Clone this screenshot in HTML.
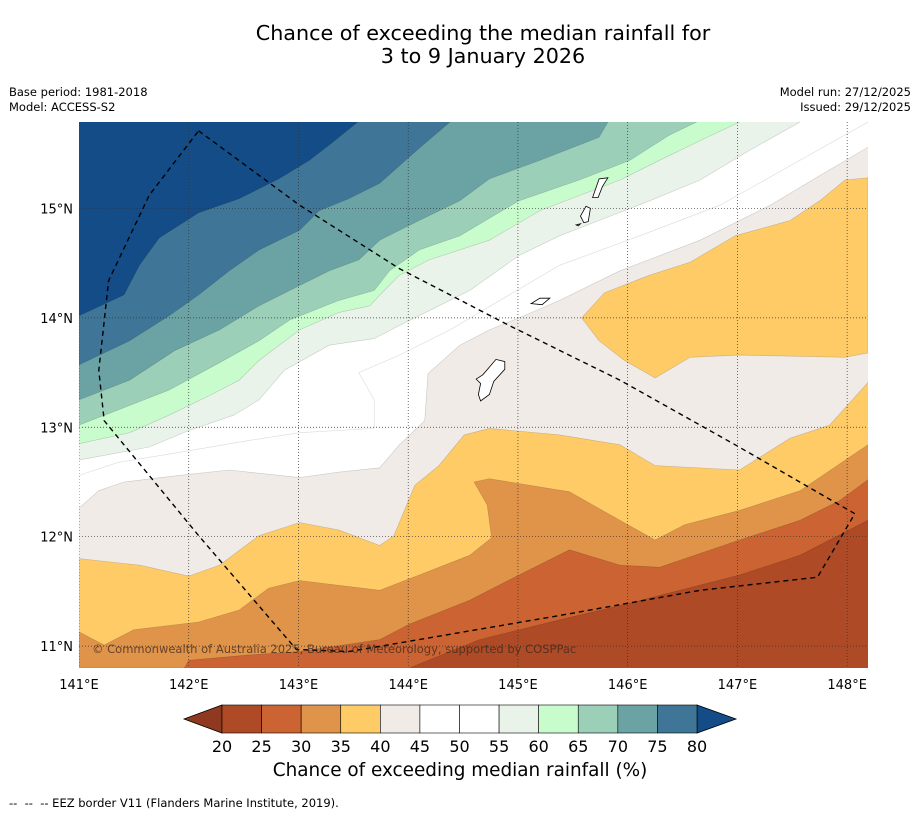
<!DOCTYPE html>
<html><head><meta charset="utf-8">
<style>
body{margin:0;background:#fff;font-family:"DejaVu Sans","Liberation Sans",sans-serif;}
#wrap{position:relative;width:919px;height:816px;overflow:hidden;background:#fff;}
.t{position:absolute;white-space:nowrap;color:#000;}
</style></head><body>
<div id="wrap">
<div class="t" style="left:0;width:966px;top:22px;text-align:center;font-size:20.7px;line-height:23px;">Chance of exceeding the median rainfall for<br>3 to 9 January 2026</div>
<div class="t" style="left:9px;top:85px;font-size:11.5px;line-height:15px;">Base period: 1981-2018<br>Model: ACCESS-S2</div>
<div class="t" style="right:8px;top:85px;font-size:11.5px;line-height:15px;text-align:right;">Model run: 27/12/2025<br>Issued: 29/12/2025</div>
<svg id="svg" width="919" height="816" style="position:absolute;left:0;top:0"></svg>
<div class="t" style="left:0;width:920px;top:760px;text-align:center;font-size:18.4px;">Chance of exceeding median rainfall (%)</div>
<div class="t" style="left:9px;top:796px;font-size:11.5px;">--&nbsp; --&nbsp; -- EEZ border V11 (Flanders Marine Institute, 2019).</div>
</div>
<script>
const levels=[20,25,30,35,40,45,50,55,60,65,70,75,80];
const colors=["#ae4a26","#cb6432","#e0944a","#fecb67","#f0ebe6","#ffffff","#ffffff","#eaf3ea","#c9fccc","#9bcfb8","#6ba3a5","#3f7697","#144c87"];
const lonTicks=[141,142,143,144,145,146,147,148];
const latTicks=[11,12,13,14,15];
const T25=[[141,10.80],[144.01,10.80],[144.65,11.06],[145.38,11.24],[145.93,11.37],[147.02,11.65],[147.57,11.83],[148.19,12.15]];
const T30=[[141,10.80],[141.96,10.80],[142.00,10.87],[142.55,10.92],[143.01,10.95],[143.74,11.06],[144.01,11.20],[144.56,11.42],[145.01,11.65],[145.47,11.88],[145.93,11.74],[146.29,11.72],[147.02,11.97],[147.57,12.15],[147.93,12.33],[148.19,12.52]];
const T35=[[141,11.13],[141.23,11.01],[141.50,11.15],[142.09,11.22],[142.46,11.33],[142.73,11.53],[143.01,11.60],[143.74,11.51],[144.10,11.65],[144.56,11.83],[144.76,11.99],[144.72,12.29],[144.60,12.50],[144.74,12.53],[145.47,12.41],[145.84,12.20],[146.25,11.97],[146.52,12.11],[147.02,12.24],[147.57,12.42],[148.19,12.84]];
const T40=[[141,11.80],[141.55,11.74],[142.00,11.64],[142.28,11.74],[142.64,12.01],[143.01,12.13],[143.37,12.06],[143.74,11.92],[143.87,12.01],[144.06,12.47],[144.28,12.65],[144.51,12.93],[144.74,12.99],[145.38,12.93],[145.93,12.84],[146.25,12.65],[147.02,12.61],[147.48,12.90],[147.84,13.02],[148.19,13.41]];
const B40=[[145.58,14.00],[145.79,14.23],[146.20,14.39],[146.57,14.51],[146.98,14.75],[147.48,14.89],[147.75,15.07],[147.98,15.26],[148.19,15.28],[148.19,13.68],[147.98,13.64],[147.02,13.66],[146.57,13.64],[146.25,13.45],[145.97,13.61],[145.74,13.79]];
const T45=[[141,12.26],[141.18,12.42],[141.41,12.50],[141.91,12.56],[142.37,12.61],[143.01,12.54],[143.37,12.59],[143.74,12.63],[143.92,12.84],[144.15,13.06],[144.18,13.49],[144.47,13.75],[144.74,13.89],[145.01,14.00],[145.38,14.16],[145.93,14.43],[146.66,14.71],[147.30,15.03],[147.75,15.30],[148.19,15.56]];
const T50=[[141,12.56],[141.36,12.68],[141.91,12.77],[142.55,12.88],[143.01,12.95],[143.69,12.99],[143.69,13.25],[143.55,13.50],[143.92,13.66],[144.38,13.89],[144.92,14.21],[145.38,14.48],[146.11,14.75],[146.84,15.03],[147.57,15.44],[148.19,15.79]];
const T55=[[141,12.70],[141.64,12.82],[142.00,12.97],[142.41,13.11],[142.64,13.25],[142.87,13.52],[143.28,13.75],[143.69,13.81],[143.92,13.93],[144.28,14.11],[144.56,14.25],[145.01,14.57],[145.38,14.75],[145.74,14.89],[146.20,15.07],[146.66,15.26],[147.11,15.53],[147.57,15.79]];
const T60=[[141,12.85],[141.46,12.95],[141.82,13.11],[142.19,13.29],[142.46,13.43],[142.64,13.61],[143.01,13.89],[143.37,14.05],[143.65,14.11],[143.78,14.25],[143.92,14.39],[144.19,14.53],[144.74,14.71],[145.20,14.98],[145.93,15.26],[146.29,15.44],[146.66,15.62],[147.02,15.79]];
const T65=[[141,13.02],[141.36,13.16],[141.82,13.34],[142.28,13.59],[142.64,13.79],[142.92,13.98],[143.37,14.16],[143.69,14.25],[143.83,14.43],[144.10,14.62],[144.47,14.75],[144.74,14.91],[145.01,15.07],[145.56,15.26],[146.02,15.44],[146.38,15.67],[146.63,15.79]];
const T70=[[141,13.25],[141.46,13.43],[141.87,13.70],[142.28,13.89],[142.64,14.11],[142.92,14.25],[143.28,14.43],[143.55,14.53],[143.74,14.71],[144.10,14.89],[144.47,15.07],[144.74,15.27],[145.20,15.44],[145.74,15.65],[145.82,15.79]];
const T75=[[141,13.57],[141.46,13.79],[141.82,14.02],[142.09,14.21],[142.37,14.43],[142.64,14.62],[143.01,14.80],[143.19,14.98],[143.46,15.09],[143.74,15.23],[143.92,15.39],[144.10,15.55],[144.38,15.79]];
const T80=[[141,14.02],[141.41,14.21],[141.55,14.48],[141.73,14.73],[142.09,14.96],[142.46,15.09],[142.82,15.27],[143.10,15.44],[143.28,15.58],[143.54,15.79]];
const EEZ=[[142.09,15.71],[143.01,15.03],[143.92,14.45],[144.92,13.93],[145.93,13.43],[146.98,12.84],[148.07,12.21],[147.73,11.63],[146.66,11.51],[145.38,11.28],[143.46,10.95],[142.98,10.97],[142.09,12.01],[141.23,13.06],[141.18,13.52],[141.27,14.34],[141.64,15.12],[142.09,15.71]];
const GUAM=[[144.62,13.44],[144.68,13.48],[144.80,13.62],[144.88,13.60],[144.88,13.53],[144.78,13.42],[144.74,13.30],[144.66,13.24],[144.64,13.30],[144.66,13.40]];
const ROTA=[[145.12,14.13],[145.20,14.18],[145.29,14.18],[145.22,14.12]];
const TINIAN=[[145.57,14.93],[145.62,15.02],[145.66,15.00],[145.64,14.88],[145.60,14.87]];
const SAIPAN=[[145.68,15.10],[145.74,15.27],[145.82,15.28],[145.77,15.20],[145.73,15.10]];
const AGUIJAN=[[145.53,14.85],[145.57,14.86],[145.55,14.84]];

const lonMin=141,lonMax=148.19,latMin=10.80,latMax=15.79;
const X0=79,X1=868,Y0=122,Y1=668;
function sx(lon){return X0+(lon-lonMin)*(X1-X0)/(lonMax-lonMin);}
function sy(lat){return Y1-(lat-latMin)*(Y1-Y0)/(latMax-latMin);}
const NS="http://www.w3.org/2000/svg";
const svg=document.getElementById('svg');
function mk(tag,attrs,parent){const e=document.createElementNS(NS,tag);for(const k in attrs)e.setAttribute(k,attrs[k]);(parent||svg).appendChild(e);return e;}
function pts(a){return a.map(p=>sx(p[0]).toFixed(1)+','+sy(p[1]).toFixed(1)).join(' ');}
const defs=mk('defs',{});
const cp=mk('clipPath',{id:'mapclip'},defs);
mk('rect',{x:X0,y:Y0,width:X1-X0,height:Y1-Y0},cp);
const g=mk('g',{'clip-path':'url(#mapclip)'});


const base=mk('rect',{x:X0,y:Y0,width:X1-X0,height:Y1-Y0,fill:colors[0]},g);


function band(line,color,name){
  let a=line.slice();
  if(a[a.length-1][0]>=lonMax-0.001) a.push([lonMax+0.5,latMax+0.5]);
  a.push([lonMin-0.5,latMax+0.5]);a.push([lonMin-0.5,a[0][1]]);
  const p=mk('polygon',{points:pts(a),fill:color,stroke:'rgba(0,0,0,0.18)','stroke-width':0.6},g);
  
  
}
band(T25,colors[1],'band-25-30');
band(T30,colors[2],'band-30-35');
band(T35,colors[3],'band-35-40');
band(T40,colors[4],'band-40-45');
const blob=mk('polygon',{points:pts(B40),fill:colors[3],stroke:'rgba(0,0,0,0.18)','stroke-width':0.6},g);


band(T45,colors[5],'band-45-55');
const l50=mk('polyline',{points:pts(T50),fill:'none',stroke:'rgba(0,0,0,0.15)','stroke-width':0.6},g);


band(T55,colors[7],'band-55-60');
band(T60,colors[8],'band-60-65');
band(T65,colors[9],'band-65-70');
band(T70,colors[10],'band-70-75');
band(T75,colors[11],'band-75-80');
band(T80,colors[12],'band-80-plus');
lonTicks.forEach(v=>{const l=mk('line',{x1:sx(v),x2:sx(v),y1:Y0,y2:Y1,stroke:'#333','stroke-width':0.7,'stroke-dasharray':'1,2'},g);

});
latTicks.forEach(v=>{const l=mk('line',{x1:X0,x2:X1,y1:sy(v),y2:sy(v),stroke:'#333','stroke-width':0.7,'stroke-dasharray':'1,2'},g);

});
[[GUAM,'guam'],[ROTA,'rota'],[TINIAN,'tinian'],[SAIPAN,'saipan'],[AGUIJAN,'aguijan']].forEach(([a,n])=>{
 const p=mk('polygon',{points:pts(a),fill:'#fff',stroke:'#000','stroke-width':0.8},g);
 
 });
const eez=mk('polyline',{points:pts(EEZ),fill:'none',stroke:'#000','stroke-width':1.4,'stroke-dasharray':'5,4'},g);


const cr=mk('text',{x:92,y:653,'font-size':11.5,fill:'rgba(60,40,30,0.75)','font-family':'DejaVu Sans, Liberation Sans, sans-serif'},g);
cr.textContent='© Commonwealth of Australia 2025, Bureau of Meteorology, supported by COSPPac';


lonTicks.forEach(v=>{const t=mk('text',{x:sx(v),y:689,'text-anchor':'middle','font-size':13,'font-family':'DejaVu Sans, Liberation Sans, sans-serif'});
t.textContent=v+'°E';

});
latTicks.forEach(v=>{const t=mk('text',{x:73,y:sy(v)+5,'text-anchor':'end','font-size':13,'font-family':'DejaVu Sans, Liberation Sans, sans-serif'});
t.textContent=v+'°N';

});
const CB0=222,CB1=697,CBy=705,CBh=28;
function cx(v){return CB0+(v-levels[0])*(CB1-CB0)/(levels[levels.length-1]-levels[0]);}
const lt=mk('polygon',{points:`${CB0},${CBy} ${184},${CBy+CBh/2} ${CB0},${CBy+CBh}`,fill:'#8f3a20',stroke:'#000','stroke-width':0.8});


const rt=mk('polygon',{points:`${CB1},${CBy} ${736},${CBy+CBh/2} ${CB1},${CBy+CBh}`,fill:colors[12],stroke:'#000','stroke-width':0.8});


for(let i=0;i<levels.length-1;i++){
 const r=mk('rect',{x:cx(levels[i]),y:CBy,width:cx(levels[i+1])-cx(levels[i]),height:CBh,fill:colors[i],stroke:'#000','stroke-width':0.6});
 
 
}
levels.forEach(v=>{const t=mk('text',{x:cx(v),y:752,'text-anchor':'middle','font-size':16,'font-family':'DejaVu Sans, Liberation Sans, sans-serif'});
t.textContent=v;

});
</script>
</body></html>
